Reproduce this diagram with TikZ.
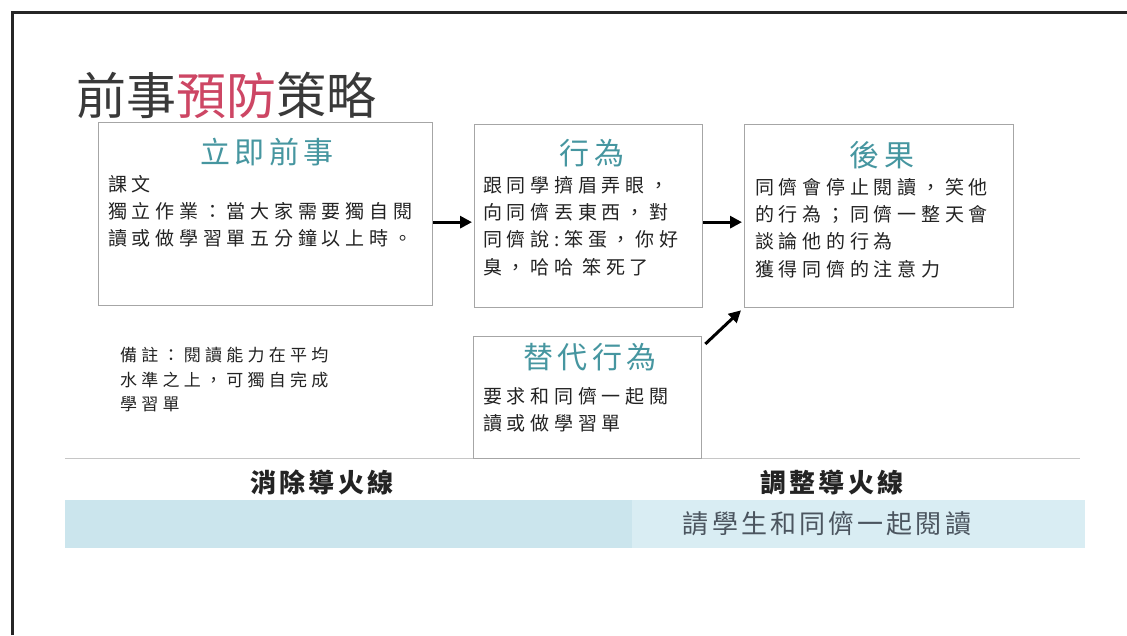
\documentclass[tikz,border=0pt]{standalone}
\usepackage{fontspec}
\newfontfamily\cjk{Noto Sans CJK TC}
\newfontfamily\cjkbody[LetterSpace=25]{Noto Sans CJK TC}
\newfontfamily\cjktitle[LetterSpace=15]{Noto Sans CJK TC}
\newfontfamily\cjkwide[LetterSpace=12]{Noto Sans CJK TC}
\usetikzlibrary{calc,arrows.meta}
\definecolor{tealt}{RGB}{70,150,160}
\definecolor{pinkred}{RGB}{205,70,100}
\definecolor{txt}{RGB}{35,35,35}
\definecolor{bandA}{RGB}{203,229,237}
\definecolor{bandB}{RGB}{217,237,243}
\definecolor{bandtxt}{RGB}{75,85,95}
\begin{document}
\begin{tikzpicture}[x=1pt,y=-1pt,
  box/.style={draw=gray!70, line width=1.3pt, fill=white, anchor=north west, inner sep=0},
  boxtitle/.style={font=\cjktitle\fontsize{30}{30}\selectfont, text=tealt, inner sep=0},
  body/.style={font=\cjkbody\fontsize{19}{27.3}\selectfont, text=txt, align=left, anchor=north west, inner sep=0},
  notebody/.style={font=\cjkbody\fontsize{17}{24.5}\selectfont, text=txt, align=left, anchor=north west, inner sep=0},
  label/.style={font=\cjkwide\bfseries\fontsize{26}{26}\selectfont, text=txt, inner sep=0},
  arr/.style={line width=3pt, black, -{Triangle[length=12pt,width=12pt]}}]
\useasboundingbox (0,0) rectangle (1127,635);
\fill[white] (0,0) rectangle (1127,635);
\draw[line width=3pt, black!85] (12,635) -- (12,12) -- (1127,12);

\node[anchor=west, font=\cjk\fontsize{50}{50}\selectfont, text=txt!90, inner sep=0] (title) at (76,95) {前事\textcolor{pinkred}{預防}策略};

% bottom rule and band
\draw[line width=1pt, gray!45] (65,458) coordinate (r1) -- (1080,458) coordinate (r2);
\fill[bandA] (65,500) rectangle (632,548);
\fill[bandB] (632,500) rectangle (1085,548);

% boxes
\node[box, minimum width=334pt, minimum height=183pt] (b1) at (98,122) {};
\node[box, minimum width=228pt, minimum height=183pt] (b2) at (474,124) {};
\node[box, minimum width=269pt, minimum height=183pt] (b3) at (744,124) {};
\node[box, minimum width=228pt, minimum height=122pt] (b4) at (473,336) {};

\node[boxtitle] (t1) at (267,152) {立即前事};
\node[boxtitle] (t2) at (592,153) {行為};
\node[boxtitle] (t3) at (882,155) {後果};
\node[boxtitle] (t4) at (590,357) {替代行為};

\node[body] (x1) at (108,175) {課文\\獨立作業：當大家需要獨自閱\\讀或做學習單五分鐘以上時。};
\node[body] (x2) at (483,176) {跟同學擠眉弄眼，\\向同儕丟東西，對\\同儕說:笨蛋，你好\\臭，哈哈 笨死了};
\node[body] (x3) at (755,178) {同儕會停止閱讀，笑他\\的行為；同儕一整天會\\談論他的行為\\獲得同儕的注意力};
\node[body] (x4) at (483,387) {要求和同儕一起閱\\讀或做學習單};
\node[notebody] (note) at (120,347) {備註：閱讀能力在平均\\水準之上，可獨自完成\\學習單};

\node[label] (l1) at (322,483) {消除導火線};
\node[label] (l2) at (832,483) {調整導火線};
\node[font=\cjkwide\fontsize{26}{26}\selectfont, text=bandtxt, inner sep=0] (l3) at (827,524) {請學生和同儕一起閱讀};

% arrows
\draw[arr] ($(b1.east)+(0,8)$) -- ($(b2.west)+(-2,6)$);
\draw[arr] ($(b2.east)+(0,6)$) -- ($(b3.west)+(-2,6)$);
\draw[arr] ($(b4.north east)+(3,8)$) -- ($(b3.south west)+(-3,2)$);
\end{tikzpicture}
\end{document}
